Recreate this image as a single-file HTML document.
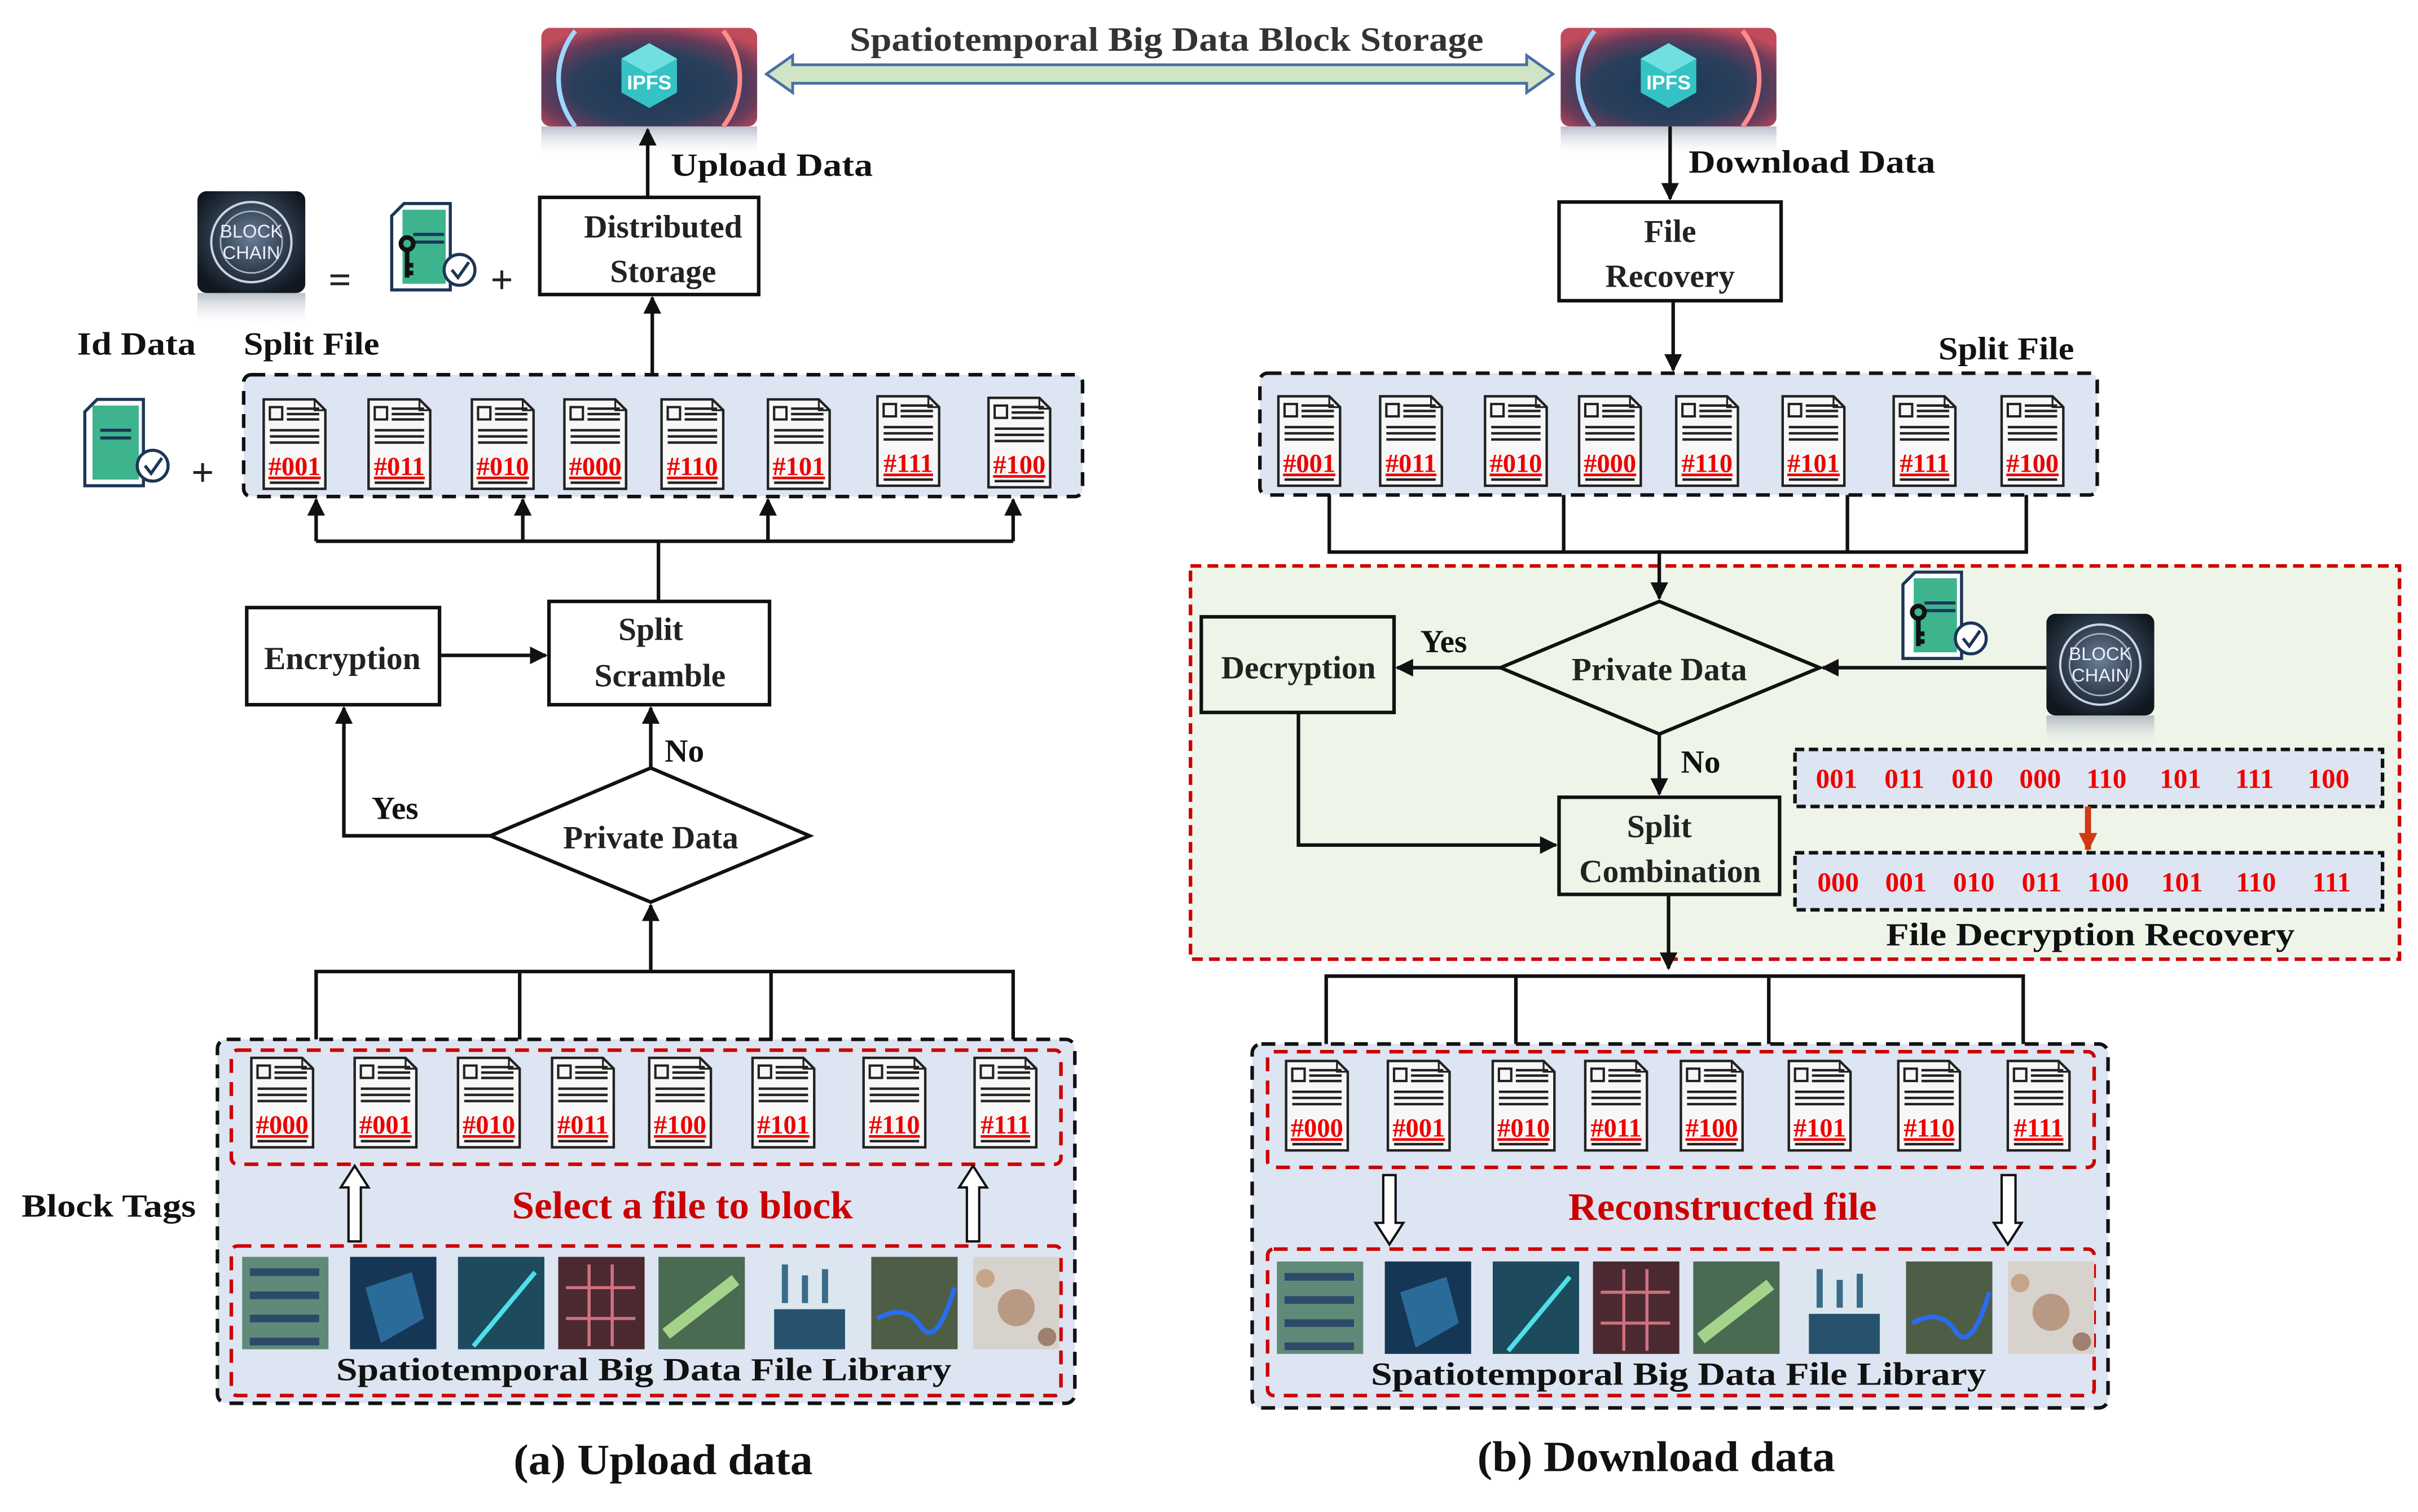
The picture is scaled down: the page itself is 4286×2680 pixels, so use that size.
<!DOCTYPE html>
<html><head><meta charset="utf-8"><style>
html,body{margin:0;padding:0;background:#fff}
svg{display:block}
text{font-family:"Liberation Serif",serif;font-weight:bold}
</style></head><body>
<svg width="4286" height="2680" viewBox="0 0 1568 980.5" preserveAspectRatio="none" xmlns="http://www.w3.org/2000/svg">
<defs>
<marker id="ah" viewBox="0 0 10 10" refX="9" refY="5" markerWidth="5" markerHeight="5" orient="auto"><path d="M0,0 L10,5 L0,10 Z" fill="#111"/></marker>
<marker id="ahr" viewBox="0 0 10 10" refX="9" refY="5" markerWidth="3" markerHeight="3" orient="auto"><path d="M0,0 L10,5 L0,10 Z" fill="#d03a14"/></marker>
<symbol id="doc" viewBox="0 0 44 62" width="44" height="62">
<path d="M2,2 H35 L42,9 V60 H2 Z" fill="#f7f7f7" stroke="#222" stroke-width="1.6"/>
<path d="M35,2 V9 H42" fill="none" stroke="#222" stroke-width="1.2"/>
<rect x="6" y="7" width="8" height="8" fill="none" stroke="#222" stroke-width="1.5"/>
<path d="M17,8H38M17,11.5H38M17,15H38M6,22H38M6,26H38M6,30H38M6,56H38" stroke="#222" stroke-width="1.6"/>
</symbol>
<symbol id="key" viewBox="0 0 58 60" width="58" height="60">
<path d="M2,10 L10,2 H40 V58 H2 Z" fill="#fff" stroke="#1d3557" stroke-width="2"/>
<rect x="9" y="6" width="28" height="48" fill="#3db48e"/>
<path d="M16,22H36M16,27H36" stroke="#1d3557" stroke-width="2"/>
<circle cx="12" cy="28" r="4" fill="none" stroke="#111" stroke-width="3"/>
<path d="M12,32V50M12,42H16M12,47H16" stroke="#111" stroke-width="3"/>
<circle cx="46" cy="45" r="10" fill="#fff" stroke="#1d3557" stroke-width="2"/>
<path d="M41,45 L45,50 L52,40" fill="none" stroke="#1d3557" stroke-width="2"/>
</symbol>
<symbol id="idd" viewBox="0 0 58 60" width="58" height="60">
<path d="M2,10 L10,2 H40 V58 H2 Z" fill="#fff" stroke="#1d3557" stroke-width="2"/>
<rect x="7" y="6" width="30" height="48" fill="#3db48e"/>
<path d="M12,22H32M12,27H32" stroke="#1d3557" stroke-width="2"/>
<circle cx="46" cy="45" r="10" fill="#fff" stroke="#1d3557" stroke-width="2"/>
<path d="M41,45 L45,50 L52,40" fill="none" stroke="#1d3557" stroke-width="2"/>
</symbol>
<radialGradient id="ipfs" cx="50%" cy="60%" r="65%"><stop offset="0" stop-color="#1b3a55"/><stop offset="0.55" stop-color="#2b3f5c"/><stop offset="0.8" stop-color="#6a3b5a"/><stop offset="1" stop-color="#c04b5b"/></radialGradient>
<radialGradient id="bc" cx="50%" cy="45%" r="60%"><stop offset="0" stop-color="#6a7f96"/><stop offset="0.6" stop-color="#2c3a4a"/><stop offset="1" stop-color="#10171f"/></radialGradient>
<linearGradient id="refl" x1="0" y1="0" x2="0" y2="1"><stop offset="0" stop-color="#8a94a4" stop-opacity="0.6"/><stop offset="1" stop-color="#fff" stop-opacity="0"/></linearGradient>
<symbol id="ipfsimg" viewBox="0 0 140 84" width="140" height="84">
<rect x="0" y="0" width="140" height="64" rx="6" fill="url(#ipfs)"/>
<path d="M22,64 A50,50 0 0 1 22,2" fill="none" stroke="#9fd6ff" stroke-width="3"/>
<path d="M118,64 A50,50 0 0 0 118,2" fill="none" stroke="#ff8c8c" stroke-width="3"/>
<rect x="0" y="64" width="140" height="20" fill="url(#refl)"/>
<path d="M70,10 L88,20 V42 L70,52 L52,42 V20 Z" fill="#35c2c5"/>
<path d="M70,10 L88,20 L70,30 L52,20 Z" fill="#6fe0df"/>
<text x="70" y="40" text-anchor="middle" font-size="13" fill="#fff" style="font-family:'Liberation Sans',sans-serif">IPFS</text>
</symbol>
<symbol id="bcimg" viewBox="0 0 70 90" width="70" height="90">
<rect x="0" y="0" width="70" height="66" rx="6" fill="url(#bc)"/>
<circle cx="35" cy="33" r="26" fill="none" stroke="#c8d4e0" stroke-width="1.5"/>
<circle cx="35" cy="33" r="20" fill="none" stroke="#a8b4c0" stroke-width="1"/>
<text x="35" y="30" text-anchor="middle" font-size="12" fill="#eef" style="font-family:'Liberation Sans',sans-serif;font-weight:normal">BLOCK</text>
<text x="35" y="44" text-anchor="middle" font-size="12" fill="#eef" style="font-family:'Liberation Sans',sans-serif;font-weight:normal">CHAIN</text>
<rect x="0" y="66" width="70" height="22" fill="url(#refl)"/>
</symbol>
<symbol id="photos" viewBox="0 0 530 60" width="530" height="60">
<rect x="0" y="0" width="56" height="60" fill="#5f8a78"/><path d="M5,10H50M5,25H50M5,40H50M5,55H50" stroke="#2e4a6a" stroke-width="5"/>
<rect x="70" y="0" width="56" height="60" fill="#163656"/><path d="M80,20 L110,10 L118,40 L90,56 Z" fill="#2b6b9a"/>
<rect x="140" y="0" width="56" height="60" fill="#1d4a5c"/><path d="M150,58 L190,10" stroke="#4ee0e8" stroke-width="3"/>
<rect x="205" y="0" width="56" height="60" fill="#4a2a30"/><path d="M210,20H255M210,40H255M225,5V58M240,5V58" stroke="#d07080" stroke-width="2"/>
<rect x="270" y="0" width="56" height="60" fill="#4a6a52"/><path d="M275,50 L320,15" stroke="#a4d48a" stroke-width="8"/>
<rect x="340" y="0" width="56" height="60" fill="#dce6ee"/><rect x="345" y="34" width="46" height="26" fill="#26526e"/><path d="M352,30V5M365,30V12M378,30V8" stroke="#3a6c8a" stroke-width="4"/>
<rect x="408" y="0" width="56" height="60" fill="#4e5e46"/><path d="M412,40 Q430,30 440,45 T462,20" fill="none" stroke="#2a6cf0" stroke-width="3"/>
<rect x="474" y="0" width="56" height="60" fill="#d8d2cc"/><circle cx="502" cy="33" r="12" fill="#b89a84"/><circle cx="482" cy="14" r="6" fill="#c7a58a"/><circle cx="522" cy="52" r="6" fill="#a08070"/>
</symbol>
</defs>

<use href="#ipfsimg" x="351" y="18"/>
<use href="#ipfsimg" x="1012" y="18"/>
<path d="M497,48 L514,36 V42 H990 V36 L1007,48 L990,60 V54 H514 V60 Z" fill="#cfe5c3" stroke="#4a6fa5" stroke-width="1.8"/>
<text x="551" y="33" font-size="22" fill="#333" textLength="411" lengthAdjust="spacingAndGlyphs">Spatiotemporal Big Data Block Storage</text>

<g stroke="#111" stroke-width="2.3" fill="none">
<line x1="420" y1="128" x2="420" y2="84" marker-end="url(#ah)"/>
<rect x="350" y="128" width="142" height="63" fill="#fff"/>
<line x1="423" y1="243" x2="423" y2="193" marker-end="url(#ah)"/>
<rect x="158" y="243" width="544" height="79" rx="5" fill="#dde5f2" stroke-dasharray="9,6"/>
<path d="M205,351 H657"/>
<line x1="427" y1="390" x2="427" y2="351"/>
<line x1="205" y1="351" x2="205" y2="324" marker-end="url(#ah)"/>
<line x1="339" y1="351" x2="339" y2="324" marker-end="url(#ah)"/>
<line x1="498" y1="351" x2="498" y2="324" marker-end="url(#ah)"/>
<line x1="657" y1="351" x2="657" y2="324" marker-end="url(#ah)"/>
<rect x="160" y="394" width="125" height="63" fill="#fff"/>
<rect x="356" y="390" width="143" height="67" fill="#fff"/>
<line x1="285" y1="425" x2="354" y2="425" marker-end="url(#ah)"/>
<path d="M422,498 L525,542 L422,585 L318,542 Z" fill="#fff"/>
<path d="M318,542 H223 V459" marker-end="url(#ah)"/>
<line x1="422" y1="498" x2="422" y2="459" marker-end="url(#ah)"/>
<path d="M205,676 V630 H657 V676 M337,630 V676 M500,630 V676"/>
<line x1="422" y1="630" x2="422" y2="587" marker-end="url(#ah)"/>
<rect x="141" y="674" width="556" height="236" rx="6" fill="#dde5f2" stroke-dasharray="9,6"/>
<rect x="150" y="681" width="538" height="74" rx="4" stroke="#c00" stroke-dasharray="9,6"/>
<rect x="150" y="808" width="538" height="97" rx="4" stroke="#c00" stroke-dasharray="9,6"/>

<line x1="1083" y1="82" x2="1083" y2="129" marker-end="url(#ah)"/>
<rect x="1011" y="131" width="144" height="64" fill="#fff"/>
<line x1="1085" y1="195" x2="1085" y2="240" marker-end="url(#ah)"/>
<rect x="817" y="242" width="543" height="79" rx="5" fill="#dde5f2" stroke-dasharray="9,6"/>
<path d="M862,321 V358 H1314 V321 M1014,321 V358 M1198,321 V358"/>
<rect x="772" y="367" width="784" height="255" fill="#eef5e8" stroke="#c00" stroke-dasharray="7,4"/>
<line x1="1076" y1="358" x2="1076" y2="388" marker-end="url(#ah)"/>
<path d="M1076,390 L1180,433 L1076,476 L973,433 Z" fill="#eef5e8"/>
<rect x="779" y="400" width="125" height="62" fill="#eef5e8"/>
<line x1="973" y1="433" x2="906" y2="433" marker-end="url(#ah)"/>
<line x1="1327" y1="433" x2="1182" y2="433" marker-end="url(#ah)"/>
<line x1="1076" y1="476" x2="1076" y2="515" marker-end="url(#ah)"/>
<rect x="1011" y="517" width="143" height="63" fill="#eef5e8"/>
<path d="M842,462 V548 H1009" marker-end="url(#ah)"/>
<rect x="1164" y="486" width="381" height="37" fill="#dde5f2" stroke-dasharray="6,3"/>
<rect x="1164" y="553" width="381" height="37" fill="#dde5f2" stroke-dasharray="6,3"/>
<line x1="1082" y1="580" x2="1082" y2="628" marker-end="url(#ah)"/>
<path d="M860,680 V633 H1312 V680 M983,633 V680 M1147,633 V680"/>
<rect x="812" y="677" width="555" height="236" rx="6" fill="#dde5f2" stroke-dasharray="9,6"/>
<rect x="822" y="682" width="536" height="75" rx="4" stroke="#c00" stroke-dasharray="9,6"/>
<rect x="822" y="810" width="536" height="95" rx="4" stroke="#c00" stroke-dasharray="9,6"/>
</g>
<line x1="1354" y1="523" x2="1354" y2="551" stroke="#d03a14" stroke-width="4" marker-end="url(#ahr)"/>

<g fill="#fff" stroke="#111" stroke-width="1.5">
<path d="M226,805 V770 H221 L230,756 L239,770 H234 V805 Z"/>
<path d="M627,805 V770 H622 L631,756 L640,770 H635 V805 Z"/>
<path d="M897,762 V793 H892 L901,807 L910,793 H905 V762 Z"/>
<path d="M1298,762 V793 H1293 L1302,807 L1311,793 H1307 V762 Z"/>
</g>

<use href="#bcimg" x="128" y="124"/>
<use href="#key" x="252" y="130"/>
<use href="#idd" x="53" y="257"/>
<use href="#key" x="1232" y="369"/>
<use href="#bcimg" x="1327" y="398"/>
<use href="#photos" x="157" y="815"/>
<use href="#photos" x="828" y="818"/>

<g>
<use href="#doc" x="169" y="257"/><use href="#doc" x="237" y="257"/><use href="#doc" x="304" y="257"/><use href="#doc" x="364" y="257"/><use href="#doc" x="427" y="257"/><use href="#doc" x="496" y="257"/><use href="#doc" x="567" y="255"/><use href="#doc" x="639" y="256"/>
<use href="#doc" x="161" y="684"/><use href="#doc" x="228" y="684"/><use href="#doc" x="295" y="684"/><use href="#doc" x="356" y="684"/><use href="#doc" x="419" y="684"/><use href="#doc" x="486" y="684"/><use href="#doc" x="558" y="684"/><use href="#doc" x="630" y="684"/>
<use href="#doc" x="827" y="255"/><use href="#doc" x="893" y="255"/><use href="#doc" x="961" y="255"/><use href="#doc" x="1022" y="255"/><use href="#doc" x="1085" y="255"/><use href="#doc" x="1154" y="255"/><use href="#doc" x="1226" y="255"/><use href="#doc" x="1296" y="255"/>
<use href="#doc" x="832" y="686"/><use href="#doc" x="898" y="686"/><use href="#doc" x="966" y="686"/><use href="#doc" x="1026" y="686"/><use href="#doc" x="1088" y="686"/><use href="#doc" x="1158" y="686"/><use href="#doc" x="1229" y="686"/><use href="#doc" x="1300" y="686"/>
</g>
<g font-size="17" fill="#e00" text-anchor="middle" text-decoration="underline">
<text x="191" y="308">#001</text><text x="259" y="308">#011</text><text x="326" y="308">#010</text><text x="386" y="308">#000</text><text x="449" y="308">#110</text><text x="518" y="308">#101</text><text x="589" y="306">#111</text><text x="661" y="307">#100</text>
<text x="183" y="735">#000</text><text x="250" y="735">#001</text><text x="317" y="735">#010</text><text x="378" y="735">#011</text><text x="441" y="735">#100</text><text x="508" y="735">#101</text><text x="580" y="735">#110</text><text x="652" y="735">#111</text>
<text x="849" y="306">#001</text><text x="915" y="306">#011</text><text x="983" y="306">#010</text><text x="1044" y="306">#000</text><text x="1107" y="306">#110</text><text x="1176" y="306">#101</text><text x="1248" y="306">#111</text><text x="1318" y="306">#100</text>
<text x="854" y="737">#000</text><text x="920" y="737">#001</text><text x="988" y="737">#010</text><text x="1048" y="737">#011</text><text x="1110" y="737">#100</text><text x="1180" y="737">#101</text><text x="1251" y="737">#110</text><text x="1322" y="737">#111</text>
</g>

<g font-size="21" fill="#222" text-anchor="middle">
<text x="430" y="154">Distributed</text><text x="430" y="183">Storage</text>
<text x="222" y="434">Encryption</text>
<text x="422" y="415">Split</text><text x="428" y="445">Scramble</text>
<text x="422" y="550">Private Data</text>
<text x="1083" y="157">File</text><text x="1083" y="186">Recovery</text>
<text x="1076" y="441">Private Data</text>
<text x="842" y="440">Decryption</text>
<text x="1076" y="543">Split</text><text x="1083" y="572">Combination</text>
</g>
<g font-size="21" fill="#111">
<text x="435" y="114" textLength="131" lengthAdjust="spacingAndGlyphs">Upload Data</text>
<text x="1095" y="112" textLength="160" lengthAdjust="spacingAndGlyphs">Download Data</text>
<text x="50" y="230" textLength="77" lengthAdjust="spacingAndGlyphs">Id Data</text>
<text x="158" y="230" textLength="88" lengthAdjust="spacingAndGlyphs">Split File</text>
<text x="1257" y="233" textLength="88" lengthAdjust="spacingAndGlyphs">Split File</text>
<text x="241" y="531">Yes</text>
<text x="431" y="494">No</text>
<text x="921" y="423">Yes</text>
<text x="1090" y="501">No</text>
<text x="14" y="789" textLength="113" lengthAdjust="spacingAndGlyphs">Block Tags</text>
<text x="1223" y="613" textLength="265" lengthAdjust="spacingAndGlyphs">File Decryption Recovery</text>
<text x="218" y="895" textLength="399" lengthAdjust="spacingAndGlyphs">Spatiotemporal  Big Data File Library</text>
<text x="889" y="898" textLength="399" lengthAdjust="spacingAndGlyphs">Spatiotemporal  Big Data File Library</text>
</g>
<g font-size="26" fill="#222">
<text x="213" y="190">=</text><text x="318" y="190">+</text><text x="124" y="315">+</text>
</g>
<g font-size="25" fill="#c00">
<text x="332" y="790" textLength="221" lengthAdjust="spacingAndGlyphs">Select a file to block</text>
<text x="1017" y="791" textLength="200" lengthAdjust="spacingAndGlyphs">Reconstructed file</text>
</g>
<g font-size="18" fill="#e00" style="font-weight:normal" text-anchor="middle">
<text x="1191" y="511">001</text><text x="1235" y="511">011</text><text x="1279" y="511">010</text><text x="1323" y="511">000</text><text x="1366" y="511">110</text><text x="1414" y="511">101</text><text x="1462" y="511">111</text><text x="1510" y="511">100</text>
<text x="1192" y="578">000</text><text x="1236" y="578">001</text><text x="1280" y="578">010</text><text x="1324" y="578">011</text><text x="1367" y="578">100</text><text x="1415" y="578">101</text><text x="1463" y="578">110</text><text x="1512" y="578">111</text>
</g>
<g font-size="28" fill="#111">
<text x="333" y="956" textLength="194" lengthAdjust="spacingAndGlyphs">(a) Upload data</text>
<text x="958" y="954" textLength="232" lengthAdjust="spacingAndGlyphs">(b) Download data</text>
</g>
</svg>
</body></html>
